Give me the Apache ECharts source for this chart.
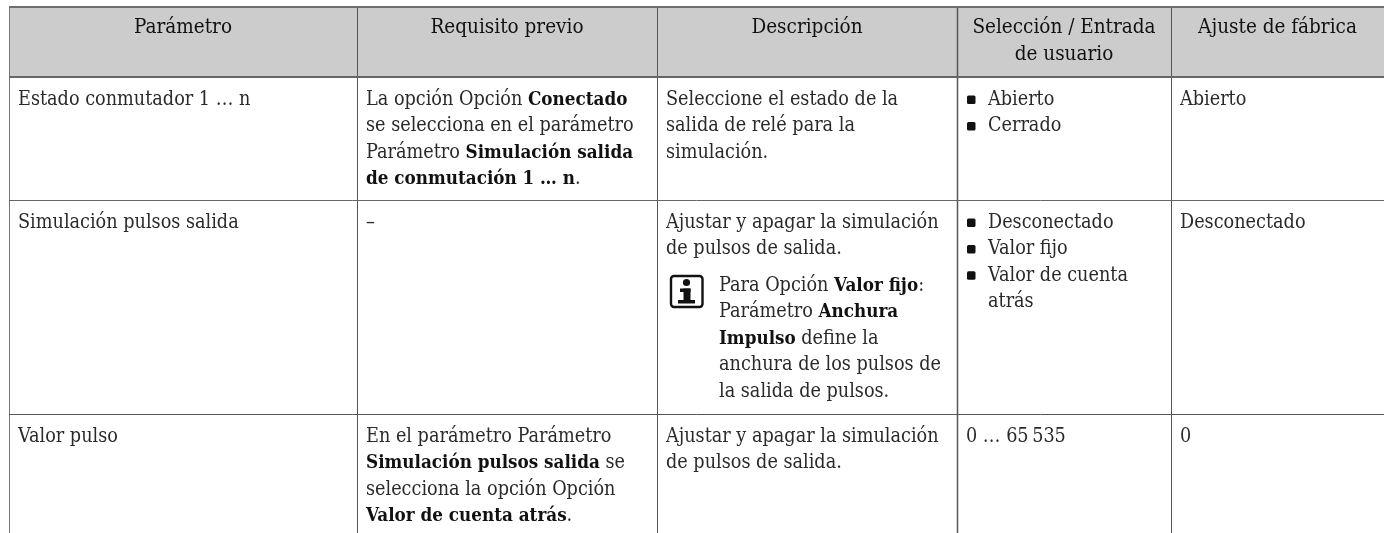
<!DOCTYPE html>
<html><head><meta charset="utf-8">
<style>html,body{margin:0;padding:0;background:#fff}#c{width:1384px;height:533px}</style>
<script src="https://cdn.jsdelivr.net/npm/echarts@6/dist/echarts.min.js"></script>
</head><body><div id="c"></div>
<script>
// Table content. **x** marks bold text.
const headers = [["Parámetro"],["Requisito previo"],["Descripción"],["Selección / Entrada","de usuario"],["Ajuste de fábrica"]];
const row1 = [
  ["Estado conmutador 1 … n"],
  ["La opción Opción **Conectado**","se selecciona en el parámetro","Parámetro **Simulación salida**","**de conmutación 1 … n**."],
  ["Seleccione el estado de la","salida de relé para la","simulación."],
  ["Abierto","Cerrado"],
  ["Abierto"]];
const row2 = [
  ["Simulación pulsos salida"],
  ["–"],
  ["Ajustar y apagar la simulación","de pulsos de salida."],
  ["Desconectado","Valor fijo","Valor de cuenta","atrás"],
  ["Desconectado"]];
const row3 = [
  ["Valor pulso"],
  ["En el parámetro Parámetro","**Simulación pulsos salida** se","selecciona la opción Opción","**Valor de cuenta atrás**."],
  ["Ajustar y apagar la simulación","de pulsos de salida."],
  ["0 … 65\u2009535"],
  ["0"]];
const noteLines = ["Para Opción **Valor fijo**:","Parámetro **Anchura**","**Impulso** define la","anchura de los pulsos de","la salida de pulsos."];
const bulletSkip = "atrás";

const colEdges = [9,357,657,957,1171,1384];
const rowEdges = [7,77,200,414,533];
const PAD = 9, PITCH = 26.4, FONT = "'DejaVu Serif Condensed'", SIZE = 19.65, BOLD = 18.7, HEAD = 20.5, COLOR='#2a2a2a';

function rich(line){
  let out='';
  line.split('**').forEach((p,i)=>{ if(p) out+='{'+(i%2?'b':'r')+'|'+p+'}'; });
  return out;
}
const richStyles = {
  r:{fontFamily:FONT,fontSize:SIZE,fill:COLOR,fontWeight:'normal',color:COLOR},
  b:{fontFamily:FONT,fontSize:BOLD,fill:'#111',fontWeight:'bold',color:'#111'}
};

const textItems = [];
headers.forEach((ls,c)=>ls.forEach((t,i)=>textItems.push({t,x:(colEdges[c]+colEdges[c+1])/2,y:28+i*27,align:'center',head:true})));
[row1,row2,row3].forEach((row,r)=>row.forEach((ls,c)=>ls.forEach((t,i)=>{
  const bullet = c===3 && r<2 && t!==bulletSkip;
  const indent = c===3 && r<2 ? 22 : 0;
  textItems.push({t,x:colEdges[c]+PAD+indent,y:rowEdges[r+1]+23+i*PITCH,align:'left',bullet});
})));
noteLines.forEach((t,i)=>textItems.push({t,x:719,y:286+i*PITCH,align:'left'}));

function renderCell(params,api){
  const it = textItems[api.value(0)];
  const p = api.coord([it.x,it.y]);
  const kids = [{type:'text',x:p[0],y:p[1],style:{
    text:it.head?it.t:rich(it.t),rich:richStyles,
    fontFamily:FONT,fontSize:it.head?HEAD:SIZE,fill:it.head?'#111':COLOR,
    align:it.align,verticalAlign:'middle'}}];
  if(it.bullet){
    const a = api.coord([it.x-21,it.y-5]);
    kids.push({type:'rect',shape:{x:a[0],y:a[1]+0.5,width:8.5,height:8.5,r:1.5},style:{fill:'#111'}});
  }
  return {type:'group',children:kids};
}
function renderFrame(params,api){
  const kids=[];
  const c=(x,y)=>api.coord([x,y]);
  const a=c(colEdges[0],rowEdges[0]), b=c(1384,rowEdges[1]);
  kids.push({type:'rect',shape:{x:a[0],y:a[1],width:b[0]-a[0],height:b[1]-a[1]},style:{fill:'#cccccc'}});
  const line=(x1,y1,x2,y2,w,col)=>{const s=c(x1,y1),e=c(x2,y2);
    kids.push({type:'line',shape:{x1:s[0],y1:s[1],x2:e[0],y2:e[1]},style:{stroke:col,lineWidth:w}});};
  colEdges.slice(0,5).forEach((x,i)=>line(x+0.5,rowEdges[0],x+0.5,533,i===3?1.5:1,i===0?'#777':'#555'));
  line(colEdges[0],7,1384,7,2,'#6e6e6e');
  line(colEdges[0],77,1384,77,2,'#666');
  line(colEdges[0],200.5,1384,200.5,1,'#666');
  line(colEdges[0],414.5,1384,414.5,1,'#555');
  // note icon
  const i0=c(671,276), i1=c(702.5,307);
  kids.push({type:'rect',shape:{x:i0[0],y:i0[1],width:i1[0]-i0[0],height:i1[1]-i0[1],r:3},style:{fill:'#fff',stroke:'#111',lineWidth:2.4}});
  const dot=c(686.5,282.5);
  kids.push({type:'circle',shape:{cx:dot[0],cy:dot[1],r:3.6},style:{fill:'#111'}});
  const s1=c(680,288.5), s2=c(683.5,288.5), s3=c(680,300);
  kids.push({type:'rect',shape:{x:s1[0],y:s1[1],width:10.5,height:3.5},style:{fill:'#111'}});
  kids.push({type:'rect',shape:{x:s2[0],y:s2[1],width:7,height:13},style:{fill:'#111'}});
  kids.push({type:'rect',shape:{x:s3[0]-2,y:s3[1],width:17,height:3.5},style:{fill:'#111'}});
  return {type:'group',children:kids};
}
const chart = echarts.init(document.getElementById('c'),null,{renderer:'canvas'});
chart.setOption({
  animation:false,
  grid:{left:0,right:0,top:0,bottom:0},
  xAxis:{type:'value',min:0,max:1384,show:false},
  yAxis:{type:'value',min:0,max:533,inverse:true,show:false},
  series:[
    {type:'custom',clip:false,silent:true,renderItem:renderFrame,data:[[0]],z:1},
    {type:'custom',clip:false,silent:true,renderItem:renderCell,data:textItems.map((_,i)=>[i]),z:2}
  ]
});
</script></body></html>
